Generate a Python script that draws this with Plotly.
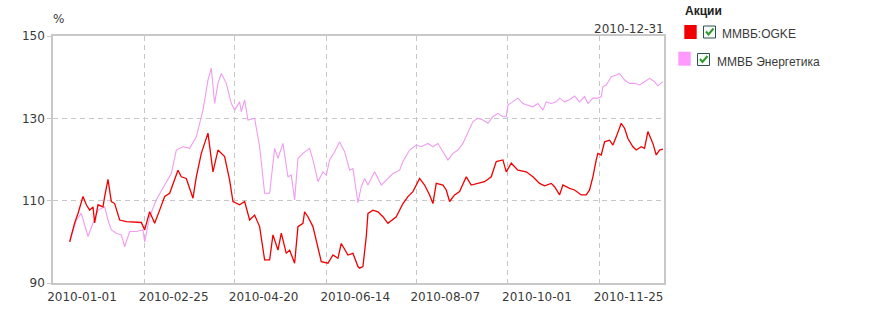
import plotly.graph_objects as go

# ---------------- data ----------------
red_name = "ММВБ:OGKE"
red_dates = ["2010-01-11","2010-01-14","2010-01-16","2010-01-19","2010-01-21","2010-01-23","2010-01-25","2010-01-26","2010-01-28","2010-01-31",
"2010-02-01","2010-02-03","2010-02-05","2010-02-07","2010-02-10","2010-02-14","2010-02-23","2010-02-25","2010-02-28",
"2010-03-03","2010-03-06","2010-03-09","2010-03-12","2010-03-17","2010-03-19","2010-03-22","2010-03-26","2010-03-28","2010-03-31",
"2010-04-04","2010-04-07","2010-04-10","2010-04-14","2010-04-17","2010-04-19","2010-04-23","2010-04-26","2010-04-29",
"2010-05-02","2010-05-05","2010-05-08","2010-05-11","2010-05-13","2010-05-16","2010-05-18","2010-05-21","2010-05-23","2010-05-26","2010-05-28","2010-05-31",
"2010-06-01","2010-06-03","2010-06-06","2010-06-09","2010-06-11","2010-06-15","2010-06-18","2010-06-21","2010-06-23","2010-06-27","2010-06-30",
"2010-07-03","2010-07-04","2010-07-06","2010-07-08","2010-07-09","2010-07-12","2010-07-15","2010-07-18","2010-07-21","2010-07-26","2010-07-30",
"2010-08-02","2010-08-05","2010-08-09","2010-08-12","2010-08-15","2010-08-17","2010-08-19","2010-08-23","2010-08-25","2010-08-27","2010-08-30",
"2010-09-02","2010-09-06","2010-09-09","2010-09-13","2010-09-17","2010-09-21","2010-09-24","2010-09-28","2010-09-30",
"2010-10-03","2010-10-07","2010-10-12","2010-10-16","2010-10-20","2010-10-23","2010-10-27","2010-10-29",
"2010-11-01","2010-11-03","2010-11-07","2010-11-10","2010-11-14","2010-11-17","2010-11-19","2010-11-21","2010-11-23","2010-11-24","2010-11-26","2010-11-28",
"2010-12-01","2010-12-03","2010-12-05","2010-12-08","2010-12-10","2010-12-12","2010-12-15","2010-12-17","2010-12-20","2010-12-22","2010-12-24","2010-12-27","2010-12-29","2010-12-31","2011-01-02"]
red_values = [100.0,104.6,106.9,111.0,109.0,107.7,108.5,104.6,109.0,108.5,
111.0,115.2,109.8,109.3,105.3,104.9,104.7,102.9,107.3,
104.5,107.7,111.0,111.8,117.4,115.8,115.4,110.6,115.8,121.5,
126.4,117.0,122.3,120.7,115.0,109.8,109.0,109.8,105.3,
106.5,103.7,95.6,95.6,101.7,98.0,102.1,97.2,98.0,94.8,103.7,104.5,
107.3,106.1,103.7,98.8,95.2,94.8,96.8,96.0,99.6,96.8,97.2,
94.0,93.6,94.0,101.3,106.9,107.7,107.3,106.1,104.5,106.1,109.3,
111.0,112.2,115.4,113.8,111.4,109.3,114.2,113.8,112.6,109.8,111.4,
112.2,115.8,113.8,114.2,114.6,115.8,119.5,119.9,117.0,
119.1,117.4,117.0,115.8,114.2,113.6,114.2,113.4,
111.4,113.8,113.0,112.6,111.4,111.4,112.6,115.8,119.9,121.5,121.1,124.3,
124.7,123.5,125.5,128.8,127.6,125.1,123.1,122.3,123.1,122.7,126.8,123.9,121.1,122.3,122.5]

pink_name = "ММВБ Энергетика"
pink_dates = ["2010-01-11","2010-01-15","2010-01-18","2010-01-22","2010-01-25","2010-01-28",
"2010-02-01","2010-02-03","2010-02-05","2010-02-08","2010-02-11","2010-02-13","2010-02-16","2010-02-20","2010-02-24","2010-02-25","2010-02-28",
"2010-03-04","2010-03-09","2010-03-13","2010-03-16","2010-03-20","2010-03-24","2010-03-28",
"2010-04-01","2010-04-04","2010-04-06","2010-04-08","2010-04-10","2010-04-12","2010-04-15","2010-04-18","2010-04-20","2010-04-23","2010-04-24","2010-04-26","2010-04-28",
"2010-05-02","2010-05-05","2010-05-08","2010-05-11","2010-05-14","2010-05-16","2010-05-19","2010-05-22","2010-05-24","2010-05-26","2010-05-28","2010-05-31",
"2010-06-04","2010-06-06","2010-06-09","2010-06-12","2010-06-14","2010-06-16","2010-06-19","2010-06-22","2010-06-25","2010-06-28","2010-06-30",
"2010-07-03","2010-07-05","2010-07-07","2010-07-09","2010-07-13","2010-07-17","2010-07-20","2010-07-24","2010-07-28","2010-07-30",
"2010-08-03","2010-08-07","2010-08-10","2010-08-14","2010-08-17","2010-08-20","2010-08-23","2010-08-26","2010-08-29",
"2010-09-01","2010-09-04","2010-09-07","2010-09-10","2010-09-13","2010-09-16","2010-09-19","2010-09-22","2010-09-25","2010-09-28","2010-09-30",
"2010-10-01","2010-10-07","2010-10-10","2010-10-13","2010-10-16","2010-10-19","2010-10-22","2010-10-24","2010-10-27","2010-10-30",
"2010-11-01","2010-11-04","2010-11-07","2010-11-10","2010-11-13","2010-11-16","2010-11-18","2010-11-21","2010-11-24","2010-11-26","2010-11-27","2010-11-29",
"2010-12-02","2010-12-05","2010-12-07","2010-12-10","2010-12-13","2010-12-16","2010-12-19","2010-12-22","2010-12-25","2010-12-28","2010-12-30","2011-01-02"]
pink_values = [100.0,105.3,106.9,101.3,104.5,107.7,
108.5,105.3,102.9,102.1,101.7,98.8,102.5,102.5,102.9,100.0,106.1,
110.2,113.8,116.6,122.3,123.1,122.7,125.5,
132.0,139.3,142.2,133.6,138.5,140.9,138.5,133.6,132.0,134.0,131.6,134.5,129.6,
130.0,123.1,111.8,111.8,122.7,120.3,123.9,115.8,116.2,110.2,120.3,121.5,
122.7,119.9,114.6,117.0,116.2,119.9,121.9,124.3,121.9,117.4,117.8,
109.5,113.4,115.4,113.8,117.0,113.8,115.0,116.6,117.4,119.5,
122.3,123.5,123.1,123.9,123.1,123.9,121.9,119.9,121.5,
122.3,123.9,126.4,129.2,130.0,129.6,128.8,130.4,131.2,130.4,130.4,
133.2,134.9,133.6,133.2,132.8,133.6,132.0,134.0,133.6,134.0,
134.9,134.0,134.5,135.4,134.0,135.3,133.6,134.9,134.9,135.3,137.7,138.1,
140.1,140.5,140.9,139.3,138.5,138.5,138.1,138.9,139.7,138.9,137.9,138.9]

x_ticks = ["2010-01-01","2010-02-25","2010-04-20","2010-06-14","2010-08-07","2010-10-01","2010-11-25"]
y_ticks = [90, 110, 130, 150]
x_range = ["2010-01-01", "2011-01-02 16:00"]
y_range = [90, 150]
legend_title = "Акции"
y_unit = "%"
end_label = "2010-12-31"

# ---------------- figure ----------------
W, H = 895, 319
L, R, T, B = 53, 231, 36, 36
PW, PH = W - L - R, H - T - B

def px(x, y):
    return (x - L) / PW, (H - B - y) / PH

RED = "#f00000"
PINK = "#f09cf0"
TXT = "#3a3a3a"
GRID = "#c8c8c8"

fig = go.Figure()
fig.add_trace(go.Scatter(x=pink_dates, y=pink_values, mode="lines", name=pink_name,
                         line=dict(color=PINK, width=1.1), showlegend=False))
fig.add_trace(go.Scatter(x=red_dates, y=red_values, mode="lines", name=red_name,
                         line=dict(color=RED, width=1.3), showlegend=False))

tick_font = dict(family="DejaVu Sans", size=12, color=TXT)

fig.update_xaxes(type="date", range=x_range, tickvals=x_ticks, ticktext=x_ticks,
                 showgrid=True, gridcolor=GRID, griddash="5px,4px", gridwidth=1,
                 showline=True, linecolor=GRID, linewidth=1.5, mirror=True,
                 ticks="", ticklabelshift=29, ticklabelstandoff=2, tickfont=tick_font, zeroline=False)
fig.update_yaxes(range=y_range, tickvals=y_ticks, ticktext=[str(v) for v in y_ticks],
                 showgrid=True, gridcolor=GRID, griddash="5px,4px", gridwidth=1,
                 showline=True, linecolor=GRID, linewidth=1.5, mirror=True,
                 ticks="outside", ticklen=4, tickcolor=GRID, tickfont=tick_font, zeroline=False)

anns = []
def ann(text, x, y, xanchor="left", font=None):
    fx, fy = px(x, y)
    anns.append(dict(text=text, x=fx, y=fy, xref="paper", yref="paper", xanchor=xanchor,
                     yanchor="middle", showarrow=False,
                     font=font or dict(family="Liberation Sans", size=12, color=TXT)))

ann(y_unit, 51, 18.5, font=dict(family="DejaVu Sans", size=12, color=TXT))
ann(end_label, 666, 28.5, xanchor="right", font=tick_font)
ann("<b>" + legend_title + "</b>", 683, 11.5, font=dict(family="Liberation Sans", size=12, color="#222"))
ann(red_name, 720, 33.5)
ann(pink_name, 714.5, 61.5)

shapes = []
def rect(x0, y0, x1, y1, fill, line=None):
    a, b = px(x0, y1)
    c, d = px(x1, y0)
    shapes.append(dict(type="rect", xref="paper", yref="paper", x0=a, y0=b, x1=c, y1=d,
                       fillcolor=fill, line=dict(width=1 if line else 0, color=line or fill)))

def check(x0, y0):
    pts = [px(x0 + 2.5, y0 + 5.5), px(x0 + 5, y0 + 8.5), px(x0 + 10, y0 + 2.5)]
    path = "M {},{} L {},{} L {},{}".format(pts[0][0], pts[0][1], pts[1][0], pts[1][1], pts[2][0], pts[2][1])
    shapes.append(dict(type="path", xref="paper", yref="paper", path=path,
                       line=dict(color="#2e9a2e", width=2)))

rect(684.3, 25, 696.7, 39, RED)
rect(703.5, 26, 715.5, 38, "#f6fbf6", "#2f5050")
check(703.5, 26)
rect(678.3, 51.7, 690.7, 65.7, "#ff99ff")
rect(697.5, 53.5, 709.5, 65.5, "#f6fbf6", "#2f5050")
check(697.5, 53.5)

fig.update_layout(width=W, height=H, margin=dict(l=L, r=R, t=T, b=B, pad=0),
                  paper_bgcolor="white", plot_bgcolor="white",
                  annotations=anns, shapes=shapes, showlegend=False)

fig.write_html("out.html")
